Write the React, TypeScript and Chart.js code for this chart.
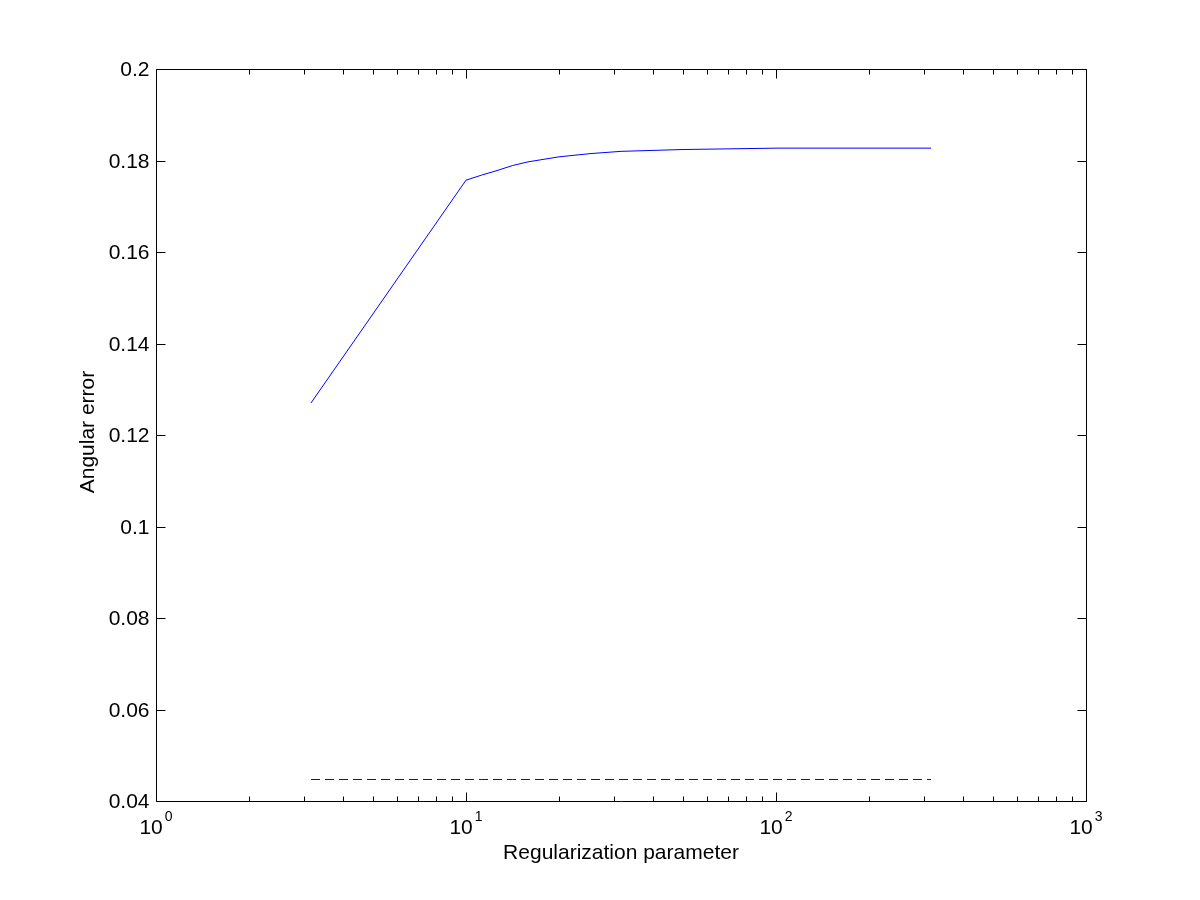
import React, { useEffect, useRef } from "react";
import { Chart, registerables } from "chart.js";

Chart.register(...registerables);

const regParam = [3.162, 10, 11.22, 12.59, 14.13, 15.85, 19.95, 25.12, 31.62, 39.81, 50.12, 63.1, 79.43, 100, 125.9, 158.5, 199.5, 251.2, 316.2];
const angularError = [0.127, 0.1757, 0.1768, 0.1778, 0.1789, 0.1797, 0.1808, 0.1815, 0.182, 0.1822, 0.1824, 0.1825, 0.1826, 0.1827, 0.1827, 0.1827, 0.1827, 0.1827, 0.1827];
const baselineError = [0.0447, 0.0447, 0.0447, 0.0447, 0.0447, 0.0447, 0.0447, 0.0447, 0.0447, 0.0447, 0.0447, 0.0447, 0.0447, 0.0447, 0.0447, 0.0447, 0.0447, 0.0447, 0.0447];

const yTickValues = [0.04, 0.06, 0.08, 0.1, 0.12, 0.14, 0.16, 0.18, 0.2];
const yTickLabels = ["0.04", "0.06", "0.08", "0.1", "0.12", "0.14", "0.16", "0.18", "0.2"];
const xMajorValues = [1, 10, 100, 1000];
const xMajorExponents = ["0", "1", "2", "3"];
const xMinorMultipliers = [2, 3, 4, 5, 6, 7, 8, 9];

const xTitle = "Regularization parameter";
const yTitle = "Angular error";

const FONT = "'Liberation Sans', Arial, Helvetica, sans-serif";
const MAIN = `21px ${FONT}`;
const SUP = `14px ${FONT}`;

const matlabAxes = {
  id: "matlabAxes",
  afterDraw(chart: any) {
    const ctx = chart.ctx as CanvasRenderingContext2D;
    const { left, right, top, bottom } = chart.chartArea;
    const xs = chart.scales.x;
    const ys = chart.scales.y;
    const L = Math.round(left) + 0.5;
    const R = Math.round(right) + 0.5;
    const T = Math.round(top) + 0.5;
    const B = Math.round(bottom) + 0.5;
    ctx.save();
    ctx.strokeStyle = "#000";
    ctx.lineWidth = 1;
    ctx.beginPath();
    ctx.rect(L, T, R - L, B - T);
    ctx.stroke();

    // y ticks
    ctx.fillStyle = "#000";
    ctx.font = MAIN;
    ctx.textAlign = "right";
    ctx.textBaseline = "middle";
    yTickValues.forEach((v, i) => {
      const y = Math.round(ys.getPixelForValue(v)) + 0.5;
      ctx.beginPath();
      ctx.moveTo(L, y);
      ctx.lineTo(L + 9, y);
      ctx.moveTo(R, y);
      ctx.lineTo(R - 9, y);
      ctx.stroke();
      ctx.fillText(yTickLabels[i], L - 7, y + 1);
    });

    // x ticks
    const drawXTick = (v: number, len: number) => {
      const x = Math.round(xs.getPixelForValue(v)) + 0.5;
      ctx.beginPath();
      ctx.moveTo(x, B);
      ctx.lineTo(x, B - len);
      ctx.moveTo(x, T);
      ctx.lineTo(x, T + len);
      ctx.stroke();
    };
    xMajorValues.forEach((v, i) => {
      drawXTick(v, 9);
      if (i < xMajorValues.length - 1) {
        xMinorMultipliers.forEach((m) => drawXTick(v * m, 5));
      }
    });

    // x labels with superscripts
    xMajorValues.forEach((v, i) => {
      const x = xs.getPixelForValue(v);
      ctx.font = MAIN;
      const wBase = ctx.measureText("10").width;
      ctx.font = SUP;
      const wExp = ctx.measureText(xMajorExponents[i]).width;
      const total = wBase + 2 + wExp;
      const start = x - total / 2;
      ctx.textAlign = "left";
      ctx.textBaseline = "alphabetic";
      ctx.font = MAIN;
      ctx.fillText("10", start, B + 32);
      ctx.font = SUP;
      ctx.fillText(xMajorExponents[i], start + wBase + 2, B + 19);
    });

    // titles
    ctx.font = MAIN;
    ctx.textAlign = "center";
    ctx.textBaseline = "alphabetic";
    ctx.fillText(xTitle, (left + right) / 2, B + 57);

    ctx.save();
    ctx.translate(94, (top + bottom) / 2 - 3);
    ctx.rotate(-Math.PI / 2);
    ctx.textAlign = "center";
    ctx.textBaseline = "alphabetic";
    ctx.fillText(yTitle, 0, 0);
    ctx.restore();

    ctx.restore();
  },
};

export default function App() {
  const ref = useRef<HTMLCanvasElement>(null);
  useEffect(() => {
    document.body.style.margin = "0";
    const canvas = ref.current!;
    const chart = new Chart(canvas, {
      type: "line",
      data: {
        datasets: [
          {
            label: "Angular error",
            data: regParam.map((x, i) => ({ x, y: angularError[i] })),
            borderColor: "#0000ff",
            borderWidth: 1,
            pointRadius: 0,
            tension: 0,
            fill: false,
          },
          {
            label: "Baseline",
            data: regParam.map((x, i) => ({ x, y: baselineError[i] })),
            borderColor: "#0000ff",
            borderWidth: 1,
            borderDash: [9, 5],
            pointRadius: 0,
            tension: 0,
            fill: false,
          },
        ],
      },
      options: {
        animation: false,
        responsive: false,
        maintainAspectRatio: false,
        layout: { padding: { left: 156, right: 114, top: 69, bottom: 99 } },
        plugins: { legend: { display: false }, tooltip: { enabled: false } },
        scales: {
          x: { type: "logarithmic", min: 1, max: 1000, display: false },
          y: { type: "linear", min: 0.04, max: 0.2, display: false },
        },
      },
      plugins: [matlabAxes],
    });
    return () => chart.destroy();
  }, []);
  return (
    <div style={{ position: "absolute", left: 0, top: 0, width: 1200, height: 900, background: "#fff" }}>
      <canvas ref={ref} width={1200} height={900} style={{ width: 1200, height: 900 }} />
    </div>
  );
}
